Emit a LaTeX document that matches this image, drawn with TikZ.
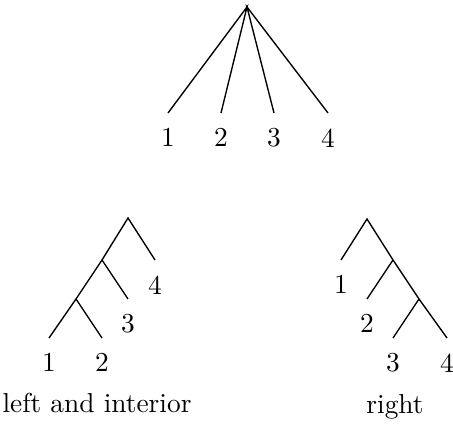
\documentclass[tikz,border=0pt]{standalone}
\usepackage{tikz}
\usetikzlibrary{positioning}

\begin{document}
\begin{tikzpicture}[x=0.365pt,y=0.365pt,line width=0.5pt,lab/.style={inner sep=2pt}]
        \useasboundingbox (0,0) rectangle (453,429);

        % Flat tree
        \coordinate (top) at (247,422);
        \coordinate (t1) at (168,316);
        \coordinate (t2) at (221,316);
        \coordinate (t3) at (274,316);
        \coordinate (t4) at (328,316);
        \draw (t1) -- (top) -- (t2);
        \draw (t3) -- (top) -- (t4);
        \node[lab,below=3.5pt of t1] (lt1) {1};
        \node[lab,below=3.5pt of t2] (lt2) {2};
        \node[lab,below=3.5pt of t3] (lt3) {3};
        \node[lab,below=3.5pt of t4] (lt4) {4};

        % Left and interior
        \coordinate (a) at (128,211);
        \coordinate (b) at (102,169);
        \coordinate (c) at (76,130);
        \coordinate (a4) at (155,169);
        \coordinate (b3) at (128,130);
        \coordinate (c1) at (49,91);
        \coordinate (c2) at (102,91);
        \draw (c1) -- (c) -- (b) -- (a) -- (a4);
        \draw (b) -- (b3);
        \draw (c) -- (c2);
        \node[lab,below=3.5pt of c1] (la1) {1};
        \node[lab,below=3.5pt of c2] (la2) {2};
        \node[lab,below=3.5pt of b3] (la3) {3};
        \node[lab,below=3.5pt of a4] (la4) {4};
        \node[anchor=base] (capl) at (97,16) {left and interior};

        % Right
        \coordinate (r) at (367,210);
        \coordinate (s) at (393,169);
        \coordinate (u) at (419,130);
        \coordinate (r1) at (341,169);
        \coordinate (s2) at (367,130);
        \coordinate (u3) at (393,91);
        \coordinate (u4) at (447,91);
        \draw (r1) -- (r) -- (s) -- (u) -- (u4);
        \draw (s) -- (s2);
        \draw (u) -- (u3);
        \node[lab,below=3.5pt of r1] (lr1) {1};
        \node[lab,below=3.5pt of s2] (lr2) {2};
        \node[lab,below=3.5pt of u3] (lr3) {3};
        \node[lab,below=3.5pt of u4] (lr4) {4};
        \node[anchor=base] (capr) at (395,15) {right};
\end{tikzpicture}
\end{document}
